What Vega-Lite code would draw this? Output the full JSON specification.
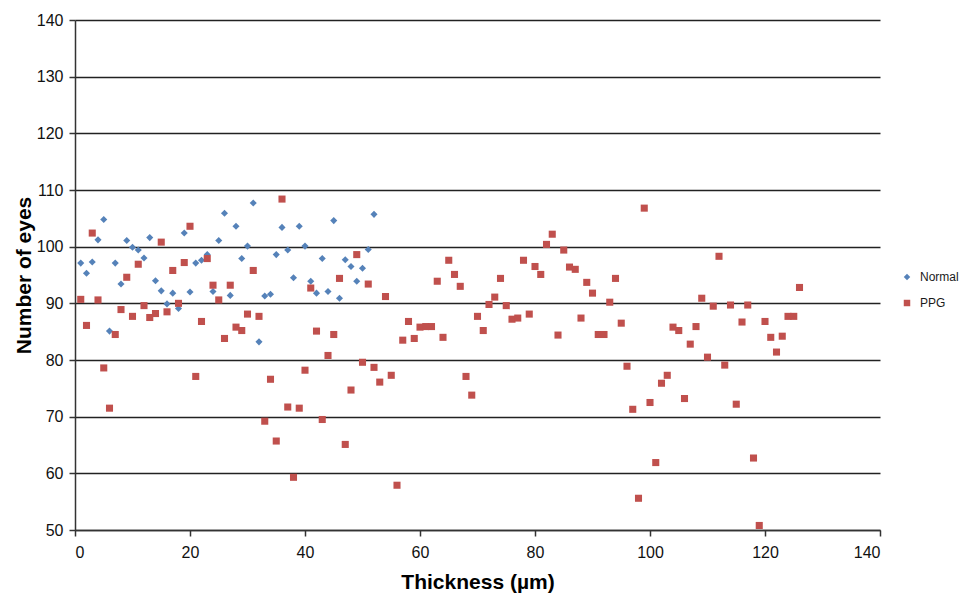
{
  "$schema": "https://vega.github.io/schema/vega-lite/v6.json",
  "width": 805,
  "height": 510,
  "autosize": {"type": "none"},
  "padding": {"left": 75, "top": 20, "right": 81, "bottom": 64},
  "background": "white",
  "config": {"view": {"stroke": null}, "font": "Liberation Sans"},
  "data": {"values": [
    {"group":"Normal","thickness":1,"eyes":97.1},{"group":"Normal","thickness":2,"eyes":95.3},{"group":"Normal","thickness":3,"eyes":97.3},{"group":"Normal","thickness":4,"eyes":101.2},{"group":"Normal","thickness":5,"eyes":104.8},{"group":"Normal","thickness":6,"eyes":85.1},{"group":"Normal","thickness":7,"eyes":97.1},{"group":"Normal","thickness":8,"eyes":93.4},{"group":"Normal","thickness":9,"eyes":101.1},{"group":"Normal","thickness":10,"eyes":99.9},
    {"group":"Normal","thickness":11,"eyes":99.4},{"group":"Normal","thickness":12,"eyes":98.0},{"group":"Normal","thickness":13,"eyes":101.6},{"group":"Normal","thickness":14,"eyes":94.0},{"group":"Normal","thickness":15,"eyes":92.2},{"group":"Normal","thickness":16,"eyes":89.9},{"group":"Normal","thickness":17,"eyes":91.8},{"group":"Normal","thickness":18,"eyes":89.1},{"group":"Normal","thickness":19,"eyes":102.4},{"group":"Normal","thickness":20,"eyes":92.0},
    {"group":"Normal","thickness":21,"eyes":97.1},{"group":"Normal","thickness":22,"eyes":97.6},{"group":"Normal","thickness":23,"eyes":98.6},{"group":"Normal","thickness":24,"eyes":92.1},{"group":"Normal","thickness":25,"eyes":101.1},{"group":"Normal","thickness":26,"eyes":105.9},{"group":"Normal","thickness":27,"eyes":91.4},{"group":"Normal","thickness":28,"eyes":103.6},{"group":"Normal","thickness":29,"eyes":97.9},{"group":"Normal","thickness":30,"eyes":100.1},
    {"group":"Normal","thickness":31,"eyes":107.7},{"group":"Normal","thickness":32,"eyes":83.2},{"group":"Normal","thickness":33,"eyes":91.3},{"group":"Normal","thickness":34,"eyes":91.6},{"group":"Normal","thickness":35,"eyes":98.6},{"group":"Normal","thickness":36,"eyes":103.4},{"group":"Normal","thickness":37,"eyes":99.4},{"group":"Normal","thickness":38,"eyes":94.5},{"group":"Normal","thickness":39,"eyes":103.6},{"group":"Normal","thickness":40,"eyes":100.1},
    {"group":"Normal","thickness":41,"eyes":93.9},{"group":"Normal","thickness":42,"eyes":91.8},{"group":"Normal","thickness":43,"eyes":97.9},{"group":"Normal","thickness":44,"eyes":92.1},{"group":"Normal","thickness":45,"eyes":104.6},{"group":"Normal","thickness":46,"eyes":90.9},{"group":"Normal","thickness":47,"eyes":97.7},{"group":"Normal","thickness":48,"eyes":96.5},{"group":"Normal","thickness":49,"eyes":93.9},{"group":"Normal","thickness":50,"eyes":96.2},
    {"group":"Normal","thickness":51,"eyes":99.5},{"group":"Normal","thickness":52,"eyes":105.7},
    {"group":"PPG","thickness":1,"eyes":90.7},{"group":"PPG","thickness":2,"eyes":86.1},{"group":"PPG","thickness":3,"eyes":102.4},{"group":"PPG","thickness":4,"eyes":90.6},{"group":"PPG","thickness":5,"eyes":78.6},{"group":"PPG","thickness":6,"eyes":71.5},{"group":"PPG","thickness":7,"eyes":84.5},{"group":"PPG","thickness":8,"eyes":88.9},{"group":"PPG","thickness":9,"eyes":94.6},{"group":"PPG","thickness":10,"eyes":87.7},
    {"group":"PPG","thickness":11,"eyes":96.9},{"group":"PPG","thickness":12,"eyes":89.6},{"group":"PPG","thickness":13,"eyes":87.5},{"group":"PPG","thickness":14,"eyes":88.2},{"group":"PPG","thickness":15,"eyes":100.8},{"group":"PPG","thickness":16,"eyes":88.5},{"group":"PPG","thickness":17,"eyes":95.8},{"group":"PPG","thickness":18,"eyes":90.0},{"group":"PPG","thickness":19,"eyes":97.2},{"group":"PPG","thickness":20,"eyes":103.6},
    {"group":"PPG","thickness":21,"eyes":77.1},{"group":"PPG","thickness":22,"eyes":86.8},{"group":"PPG","thickness":23,"eyes":97.9},{"group":"PPG","thickness":24,"eyes":93.2},{"group":"PPG","thickness":25,"eyes":90.6},{"group":"PPG","thickness":26,"eyes":83.8},{"group":"PPG","thickness":27,"eyes":93.2},{"group":"PPG","thickness":28,"eyes":85.8},{"group":"PPG","thickness":29,"eyes":85.2},{"group":"PPG","thickness":30,"eyes":88.1},
    {"group":"PPG","thickness":31,"eyes":95.8},{"group":"PPG","thickness":32,"eyes":87.7},{"group":"PPG","thickness":33,"eyes":69.2},{"group":"PPG","thickness":34,"eyes":76.6},{"group":"PPG","thickness":35,"eyes":65.7},{"group":"PPG","thickness":36,"eyes":108.4},{"group":"PPG","thickness":37,"eyes":71.7},{"group":"PPG","thickness":38,"eyes":59.3},{"group":"PPG","thickness":39,"eyes":71.5},{"group":"PPG","thickness":40,"eyes":78.2},
    {"group":"PPG","thickness":41,"eyes":92.7},{"group":"PPG","thickness":42,"eyes":85.1},{"group":"PPG","thickness":43,"eyes":69.5},{"group":"PPG","thickness":44,"eyes":80.8},{"group":"PPG","thickness":45,"eyes":84.5},{"group":"PPG","thickness":46,"eyes":94.4},{"group":"PPG","thickness":47,"eyes":65.1},{"group":"PPG","thickness":48,"eyes":74.7},{"group":"PPG","thickness":49,"eyes":98.6},{"group":"PPG","thickness":50,"eyes":79.6},
    {"group":"PPG","thickness":51,"eyes":93.4},{"group":"PPG","thickness":52,"eyes":78.7},{"group":"PPG","thickness":53,"eyes":76.1},{"group":"PPG","thickness":54,"eyes":91.2},{"group":"PPG","thickness":55,"eyes":77.3},{"group":"PPG","thickness":56,"eyes":57.9},{"group":"PPG","thickness":57,"eyes":83.5},{"group":"PPG","thickness":58,"eyes":86.8},{"group":"PPG","thickness":59,"eyes":83.8},{"group":"PPG","thickness":60,"eyes":85.8},
    {"group":"PPG","thickness":61,"eyes":85.9},{"group":"PPG","thickness":62,"eyes":85.9},{"group":"PPG","thickness":63,"eyes":93.9},{"group":"PPG","thickness":64,"eyes":84.0},{"group":"PPG","thickness":65,"eyes":97.6},{"group":"PPG","thickness":66,"eyes":95.1},{"group":"PPG","thickness":67,"eyes":93.0},{"group":"PPG","thickness":68,"eyes":77.1},{"group":"PPG","thickness":69,"eyes":73.8},{"group":"PPG","thickness":70,"eyes":87.7},
    {"group":"PPG","thickness":71,"eyes":85.2},{"group":"PPG","thickness":72,"eyes":89.8},{"group":"PPG","thickness":73,"eyes":91.1},{"group":"PPG","thickness":74,"eyes":94.4},{"group":"PPG","thickness":75,"eyes":89.6},{"group":"PPG","thickness":76,"eyes":87.2},{"group":"PPG","thickness":77,"eyes":87.4},{"group":"PPG","thickness":78,"eyes":97.6},{"group":"PPG","thickness":79,"eyes":88.1},{"group":"PPG","thickness":80,"eyes":96.5},
    {"group":"PPG","thickness":81,"eyes":95.1},{"group":"PPG","thickness":82,"eyes":100.4},{"group":"PPG","thickness":83,"eyes":102.2},{"group":"PPG","thickness":84,"eyes":84.4},{"group":"PPG","thickness":85,"eyes":99.4},{"group":"PPG","thickness":86,"eyes":96.4},{"group":"PPG","thickness":87,"eyes":96.0},{"group":"PPG","thickness":88,"eyes":87.4},{"group":"PPG","thickness":89,"eyes":93.7},{"group":"PPG","thickness":90,"eyes":91.8},
    {"group":"PPG","thickness":91,"eyes":84.5},{"group":"PPG","thickness":92,"eyes":84.5},{"group":"PPG","thickness":93,"eyes":90.2},{"group":"PPG","thickness":94,"eyes":94.4},{"group":"PPG","thickness":95,"eyes":86.5},{"group":"PPG","thickness":96,"eyes":78.9},{"group":"PPG","thickness":97,"eyes":71.3},{"group":"PPG","thickness":98,"eyes":55.6},{"group":"PPG","thickness":99,"eyes":106.8},{"group":"PPG","thickness":100,"eyes":72.5},
    {"group":"PPG","thickness":101,"eyes":61.9},{"group":"PPG","thickness":102,"eyes":75.9},{"group":"PPG","thickness":103,"eyes":77.3},{"group":"PPG","thickness":104,"eyes":85.8},{"group":"PPG","thickness":105,"eyes":85.2},{"group":"PPG","thickness":106,"eyes":73.2},{"group":"PPG","thickness":107,"eyes":82.8},{"group":"PPG","thickness":108,"eyes":85.9},{"group":"PPG","thickness":109,"eyes":90.9},{"group":"PPG","thickness":110,"eyes":80.5},
    {"group":"PPG","thickness":111,"eyes":89.5},{"group":"PPG","thickness":112,"eyes":98.3},{"group":"PPG","thickness":113,"eyes":79.1},{"group":"PPG","thickness":114,"eyes":89.7},{"group":"PPG","thickness":115,"eyes":72.2},{"group":"PPG","thickness":116,"eyes":86.7},{"group":"PPG","thickness":117,"eyes":89.7},{"group":"PPG","thickness":118,"eyes":62.7},{"group":"PPG","thickness":119,"eyes":50.8},{"group":"PPG","thickness":120,"eyes":86.8},
    {"group":"PPG","thickness":121,"eyes":84.0},{"group":"PPG","thickness":122,"eyes":81.4},{"group":"PPG","thickness":123,"eyes":84.2},{"group":"PPG","thickness":124,"eyes":87.7},{"group":"PPG","thickness":125,"eyes":87.7},{"group":"PPG","thickness":126,"eyes":92.8}
  ]},
  "mark": {"type": "point", "filled": true, "opacity": 1, "size": 50},
  "encoding": {
    "x": {
      "field": "thickness", "type": "quantitative",
      "scale": {"domain": [0, 140], "nice": false, "zero": false},
      "axis": {
        "title": "Thickness (µm)", "values": [0, 20, 40, 60, 80, 100, 120, 140],
        "grid": false, "domainColor": "#333333", "domainWidth": 1.5,
        "tickColor": "#333333", "tickSize": 6, "tickWidth": 1.5,
        "labelFontSize": 16, "labelColor": "#111111", "labelPadding": 8,
        "titleFontSize": 21, "titleFontWeight": "bold", "titleColor": "#000000", "titlePadding": 11
      }
    },
    "y": {
      "field": "eyes", "type": "quantitative",
      "scale": {"domain": [50, 140], "nice": false, "zero": false},
      "axis": {
        "title": "Number of eyes", "values": [50, 60, 70, 80, 90, 100, 110, 120, 130, 140],
        "grid": true, "gridColor": "#222222", "gridWidth": 1.4,
        "domainColor": "#333333", "domainWidth": 1.5,
        "tickColor": "#333333", "tickSize": 6, "tickWidth": 1.5,
        "labelFontSize": 16, "labelColor": "#111111", "labelPadding": 6,
        "titleFontSize": 21, "titleFontWeight": "bold", "titleColor": "#000000", "titlePadding": 2
      }
    },
    "color": {
      "field": "group", "type": "nominal",
      "scale": {"domain": ["Normal", "PPG"], "range": ["#5582B9", "#C0504D"]},
      "legend": {
        "title": null, "orient": "none", "legendX": 826, "legendY": 251,
        "symbolSize": 42, "labelFontSize": 12, "labelColor": "#1a1a1a",
        "rowPadding": 14, "labelOffset": 7, "symbolStrokeWidth": 0
      }
    },
    "shape": {
      "field": "group", "type": "nominal",
      "scale": {"domain": ["Normal", "PPG"], "range": ["diamond", "square"]}
    }
  }
}
